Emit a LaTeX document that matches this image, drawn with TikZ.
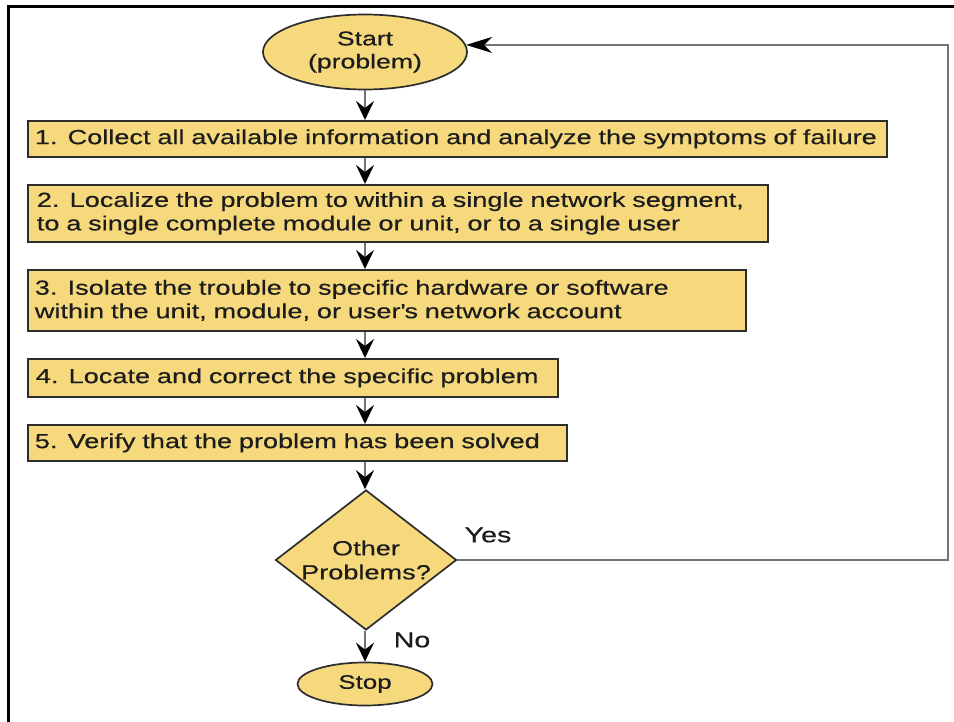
\documentclass[tikz,border=0pt]{standalone}
\usepackage{fontspec}
\setmainfont[FakeStretch=1.33,FakeBold=0.35]{Liberation Sans}
\usetikzlibrary{shapes.geometric,arrows.meta}

\definecolor{boxfill}{RGB}{245,217,124}
\definecolor{edge}{RGB}{45,45,45}
\definecolor{wire}{RGB}{115,115,115}
\definecolor{ink}{RGB}{28,28,28}

\tikzset{
  stepbox/.style={draw=edge, line width=1.7pt, fill=boxfill, text=ink,
    inner xsep=7pt, inner ysep=0pt, align=left, anchor=north west,
    font=\fontsize{20.4}{23.5}\selectfont},
  terminal/.style={ellipse, draw=edge, line width=1.7pt, fill=boxfill, text=ink,
    inner sep=0pt, align=center},
  decision/.style={diamond, draw=edge, line width=1.7pt, fill=boxfill,
    inner sep=0pt, minimum width=181pt, minimum height=140pt},
  flow/.style={draw=wire, line width=2.4pt,
    -{Stealth[length=19pt,width=18pt,inset=7pt,color=black]}},
  loopflow/.style={draw=wire, line width=1.6pt,
    -{Stealth[length=26pt,width=16pt,inset=8pt,color=black]}},
  tag/.style={text=ink, font=\fontsize{21.5}{24}\selectfont},
}

\begin{document}
\begin{tikzpicture}[x=1pt,y=-1pt]
  % page area
  \fill[white] (0,0) rectangle (954,722);
  \useasboundingbox (0,0) rectangle (954,722);

  % outer frame (top and left edges)
  \draw[line width=3pt, black] (8,722) -- (8,7) -- (954,7);

  % terminals
  \node[terminal, minimum width=204pt, minimum height=75pt,
        font=\fontsize{20}{23}\selectfont] (start) at (365,52) {Start\\(problem)};
  \node[terminal, minimum width=135pt, minimum height=43pt,
        font=\fontsize{19.5}{22}\selectfont] (stop) at (365,684) {Stop};

  % process steps
  \node[stepbox, text width=845pt, minimum height=36pt] (b1) at (27,120)
    {\mbox{1. Collect all available information and analyze the symptoms of failure}};
  \node[stepbox, text width=722pt, minimum height=57pt, inner xsep=9pt] (b2) at (27,184)
    {\mbox{2. Localize the problem to within a single network segment,}\\
     \mbox{to a single complete module or unit, or to a single user}};
  \node[stepbox, text width=704pt, minimum height=61pt] (b3) at (27,269)
    {\mbox{3. Isolate the trouble to specific hardware or software}\\
     \mbox{within the unit, module, or user\textquotesingle s network account}};
  \node[stepbox, text width=514pt, minimum height=38pt, inner xsep=8pt] (b4) at (27,358)
    {\mbox{4. Locate and correct the specific problem}};
  \node[stepbox, text width=525pt, minimum height=36pt] (b5) at (27,424)
    {\mbox{5. Verify that the problem has been solved}};

  % decision
  \node[decision] (dec) at (366,560) {};
  \node[text=ink, align=center, font=\fontsize{20.4}{24}\selectfont] (decq)
    at (dec.center) {Other\\Problems?};

  % connectors down the main column
  \draw[flow] (start.south) -- (b1.north -| start.south);
  \draw[flow] (b1.south -| start.south) -- (b2.north -| start.south);
  \draw[flow] (b2.south -| start.south) -- (b3.north -| start.south);
  \draw[flow] (b3.south -| start.south) -- (b4.north -| start.south);
  \draw[flow] (b4.south -| start.south) -- (b5.north -| start.south);
  \draw[flow] (b5.south -| start.south) -- (dec.north -| start.south);
  \draw[flow] (dec.south -| start.south) -- (stop.north);

  % "Yes" loop back to the start
  \coordinate (loopx) at (948,0);
  \draw[loopflow] (dec.east) -| (loopx |- start.4) -- (start.4);

  % branch labels
  \node[tag] (yes) at (488,535) {Yes};
  \node[tag] (no) at (412,640) {No};
\end{tikzpicture}
\end{document}
